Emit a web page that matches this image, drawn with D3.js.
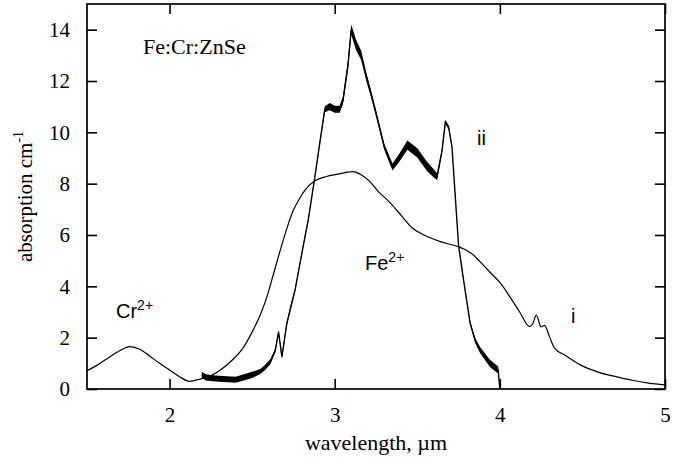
<!DOCTYPE html>
<html>
<head>
<meta charset="utf-8">
<script src="https://cdn.jsdelivr.net/npm/d3@7"></script>
<style>
  body { margin: 0; background: #fff; }
  svg { display: block; }
</style>
</head>
<body>
<script>
// curve i (thin)
const iWave = [1.50, 1.56, 1.64, 1.70, 1.76, 1.82, 1.88, 1.94, 2.00, 2.06, 2.12, 2.18, 2.26, 2.32, 2.38, 2.44, 2.49, 2.55, 2.59, 2.63, 2.67, 2.71, 2.75, 2.79, 2.82, 2.88, 2.95, 3.02, 3.08, 3.11, 3.16, 3.21, 3.27, 3.32, 3.41, 3.47, 3.54, 3.64, 3.75, 3.80, 3.84, 3.88, 3.94, 4.00, 4.06, 4.12, 4.18, 4.20, 4.22, 4.25, 4.27, 4.30, 4.33, 4.40, 4.49, 4.60, 4.69, 4.80, 4.90, 5.00]
const iAbs  = [0.71, 0.92, 1.26, 1.50, 1.65, 1.55, 1.28, 1.00, 0.74, 0.48, 0.30, 0.38, 0.55, 0.80, 1.13, 1.55, 2.10, 2.90, 3.60, 4.50, 5.40, 6.25, 6.97, 7.45, 7.75, 8.11, 8.28, 8.37, 8.45, 8.47, 8.35, 8.10, 7.65, 7.36, 6.71, 6.27, 6.00, 5.74, 5.54, 5.40, 5.22, 4.96, 4.55, 4.15, 3.60, 3.00, 2.43, 2.55, 2.88, 2.42, 2.48, 2.05, 1.60, 1.30, 0.93, 0.65, 0.50, 0.34, 0.23, 0.16]

// curve ii (thick, noisy) with half-width of the noise band
const iiWave  = [2.195, 2.22, 2.26, 2.30, 2.35, 2.40, 2.45, 2.50, 2.55, 2.58, 2.61, 2.64, 2.66, 2.68, 2.71, 2.74, 2.76, 2.79, 2.81, 2.84, 2.88, 2.91, 2.94, 2.97, 3.00, 3.03, 3.05, 3.08, 3.10, 3.13, 3.16, 3.19, 3.22, 3.25, 3.30, 3.35, 3.39, 3.44, 3.50, 3.56, 3.60, 3.62, 3.65, 3.67, 3.69, 3.71, 3.73, 3.75, 3.78, 3.82, 3.85, 3.88, 3.94, 3.99, 4.00]
const iiAbs   = [0.55, 0.45, 0.42, 0.40, 0.38, 0.36, 0.45, 0.55, 0.68, 0.85, 1.06, 1.50, 2.23, 1.25, 2.55, 3.35, 3.86, 4.90, 5.60, 6.60, 8.27, 9.60, 10.9, 11.0, 10.9, 10.9, 11.25, 12.6, 14.0, 13.4, 13.0, 12.2, 11.5, 10.75, 9.44, 8.65, 9.00, 9.50, 9.20, 8.66, 8.40, 8.27, 9.30, 10.4, 10.2, 9.44, 7.50, 5.60, 4.25, 2.57, 1.90, 1.52, 1.00, 0.74, 0.00]
const iiNoise = [0.12, 0.12, 0.12, 0.12, 0.12, 0.12, 0.12, 0.12, 0.10, 0.10, 0.10, 0.08, 0.06, 0.06, 0.08, 0.08, 0.06, 0.05, 0.05, 0.04, 0.04, 0.05, 0.12, 0.14, 0.14, 0.14, 0.16, 0.18, 0.20, 0.20, 0.18, 0.16, 0.14, 0.12, 0.12, 0.14, 0.16, 0.18, 0.18, 0.18, 0.16, 0.14, 0.08, 0.08, 0.08, 0.05, 0.03, 0.03, 0.04, 0.06, 0.10, 0.12, 0.14, 0.14, 0.00]

const xTicks = [2, 3, 4, 5]
const yTicks = [0, 2, 4, 6, 8, 10, 12, 14]

const W = 681, H = 466
const m = { left: 87, right: 16, top: 4, bottom: 77 }

const svg = d3.select('body').append('svg')
  .attr('width', W)
  .attr('height', H)

const x = d3.scaleLinear().domain([1.5, 5]).range([m.left, W - m.right])
const y = d3.scaleLinear().domain([0, 15]).range([H - m.bottom, m.top])

const serif = '"Liberation Serif", "Times New Roman", serif'
const sans = '"Liberation Sans", Arial, sans-serif'

// axes with inward ticks
const axB = svg.append('g')
  .attr('transform', `translate(0,${y(0)})`)
  .call(d3.axisBottom(x).tickValues(xTicks).tickSize(-10).tickPadding(18).tickFormat(d3.format('d')))
const axT = svg.append('g')
  .attr('transform', `translate(0,${y(15)})`)
  .call(d3.axisTop(x).tickValues(xTicks).tickSize(-10).tickFormat(''))
const axL = svg.append('g')
  .attr('transform', `translate(${x(1.5)},0)`)
  .call(d3.axisLeft(y).tickValues(yTicks).tickSize(-10).tickPadding(17).tickFormat(d3.format('d')))
const axR = svg.append('g')
  .attr('transform', `translate(${x(5)},0)`)
  .call(d3.axisRight(y).tickValues(yTicks).tickSize(-10).tickFormat(''))

;[axB, axT, axL, axR].forEach(g => {
  g.select('.domain').remove()
  g.selectAll('.tick line').attr('stroke', '#000').attr('stroke-width', 1.6)
  g.selectAll('.tick text').attr('fill', '#000').style('font-family', serif).style('font-size', '21px')
})

svg.append('rect')
  .attr('x', x(1.5)).attr('y', y(15))
  .attr('width', x(5) - x(1.5)).attr('height', y(0) - y(15))
  .attr('fill', 'none').attr('stroke', '#000').attr('stroke-width', 1.7)

// curve ii
const ii = iiWave.map((w, k) => ({ w: w, a: iiAbs[k], n: iiNoise[k] }))
svg.append('path')
  .datum(ii)
  .attr('d', d3.area().x(d => x(d.w)).y0(d => y(d.a - d.n)).y1(d => y(d.a + d.n)))
  .attr('fill', '#000')
svg.append('path')
  .datum(ii)
  .attr('d', d3.line().x(d => x(d.w)).y(d => y(d.a)))
  .attr('fill', 'none').attr('stroke', '#000').attr('stroke-width', 1.4)

// curve i
const ci = iWave.map((w, k) => ({ w: w, a: iAbs[k] }))
svg.append('path')
  .datum(ci)
  .attr('d', d3.line().x(d => x(d.w)).y(d => y(d.a)).curve(d3.curveMonotoneX))
  .attr('fill', 'none').attr('stroke', '#000').attr('stroke-width', 1.2)

// axis titles
svg.append('text')
  .attr('x', (x(1.5) + x(5)) / 2).attr('y', 450)
  .attr('text-anchor', 'middle')
  .style('font-family', serif).style('font-size', '22px')
  .text('wavelength, \u00b5m')

const yt = svg.append('text')
  .attr('transform', `translate(32,${(y(0) + y(15)) / 2}) rotate(-90)`)
  .attr('text-anchor', 'middle')
  .style('font-family', serif).style('font-size', '21px')
yt.append('tspan').text('absorption cm')
yt.append('tspan').attr('dy', -9).style('font-size', '14px').text('-1')

// labels
svg.append('text')
  .attr('x', 143).attr('y', 54)
  .style('font-family', serif).style('font-size', '22px')
  .text('Fe:Cr:ZnSe')

const ion = (px, py, name) => {
  const t = svg.append('text').attr('x', px).attr('y', py)
    .style('font-family', sans).style('font-size', '20px')
  t.append('tspan').text(name)
  t.append('tspan').attr('dy', -8).style('font-size', '14px').text('2+')
}
ion(116, 318, 'Cr')
ion(365, 270, 'Fe')

svg.append('text').attr('x', 477).attr('y', 145)
  .style('font-family', sans).style('font-size', '20px').text('ii')
svg.append('text').attr('x', 571).attr('y', 323)
  .style('font-family', sans).style('font-size', '20px').text('i')
</script>
</body>
</html>
